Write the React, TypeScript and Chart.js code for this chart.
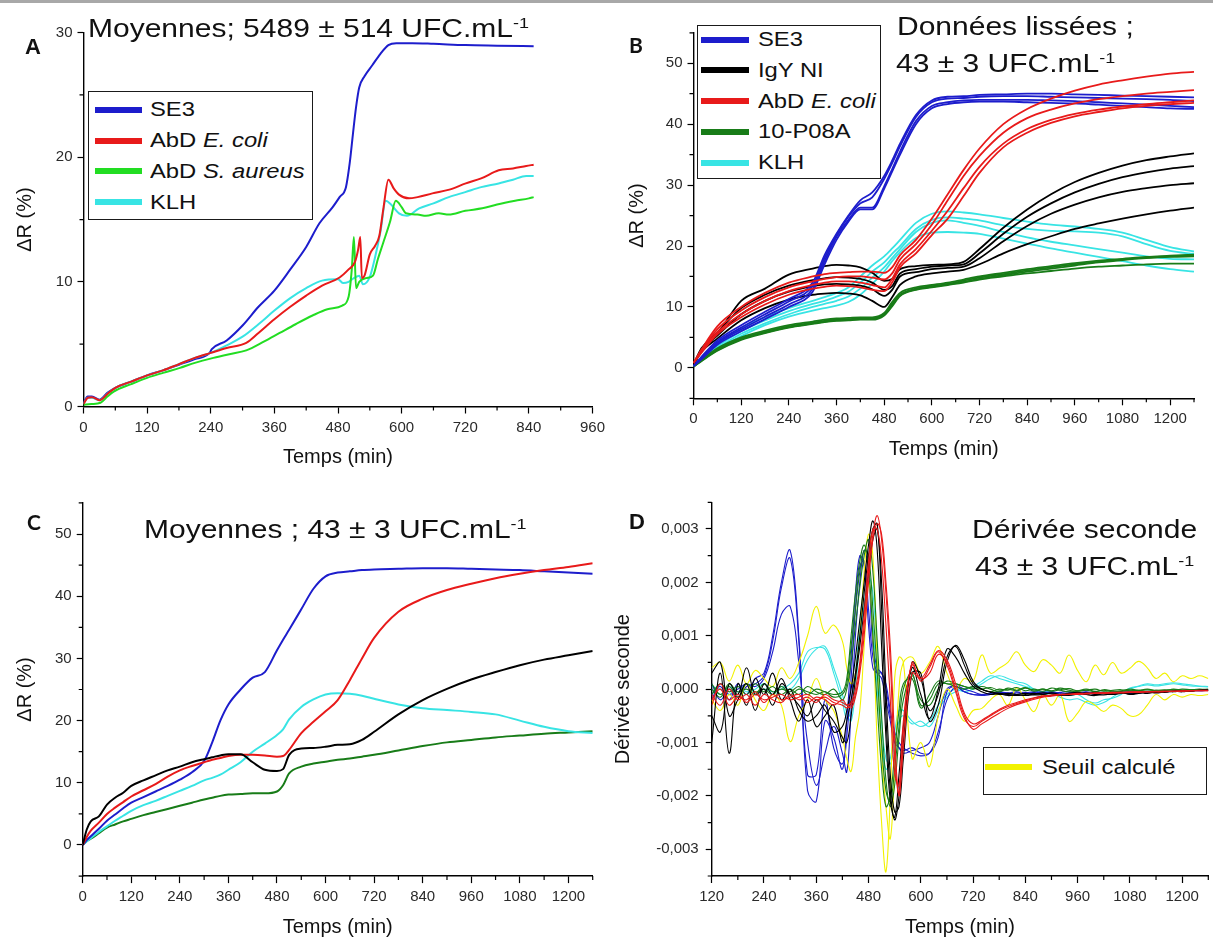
import React, { useEffect, useRef } from 'react';
import { Chart, registerables } from 'chart.js';

Chart.register(...registerables);

const FONT = "'Liberation Sans', Arial, Helvetica, sans-serif";
const LATO = "Lato, 'Liberation Sans', sans-serif";

const BLUE = '#1d1dcc';
const RED = '#e81a1a';
const LIME = '#22dd22';
const GREEN = '#187c18';
const CYAN = '#38e4e4';
const BLACK = '#000000';
const YELLOW = '#f2f200';

type Pt = [number, number];

// ---------------- Panel A (5489 ± 514 UFC/mL, means) ----------------
const A_X_MAJOR = [0, 120, 240, 360, 480, 600, 720, 840, 960];
const A_X_MINOR = [60, 180, 300, 420, 540, 660, 780, 900];
const A_Y_MAJOR = [0, 10, 20, 30];
const A_Y_MINOR = [5, 15, 25];

const A_SE3: Pt[] = [[0,0.3],[8,0.8],[16,0.8],[30,0.55],[45,1.1],[60,1.5],[90,2.0],[120,2.5],[150,2.9],[180,3.35],[210,3.8],[238,4.3],[242,4.6],[270,5.3],[300,6.5],[330,8.0],[360,9.3],[390,11.0],[420,12.8],[445,14.7],[470,16.0],[483,16.8],[495,17.6],[502,19.5],[508,21.8],[514,24.0],[520,25.6],[530,26.5],[545,27.4],[560,28.3],[575,29.0],[590,29.15],[620,29.15],[660,29.1],[720,29.0],[780,28.95],[849,28.9]];
const A_ECOLI: Pt[] = [[0,0.2],[8,0.7],[16,0.75],[30,0.5],[45,1.0],[60,1.5],[90,2.0],[120,2.5],[150,2.9],[180,3.4],[210,3.9],[240,4.3],[270,4.7],[307,5.1],[330,5.9],[360,7.0],[390,8.0],[420,8.9],[450,9.7],[483,10.35],[500,11.0],[512,11.6],[518,12.6],[522,13.6],[525,10.3],[530,10.5],[540,12.2],[550,12.9],[558,13.7],[566,16.0],[575,18.2],[585,17.5],[595,17.0],[614,16.7],[630,16.8],[658,17.1],[690,17.4],[721,17.9],[750,18.3],[783,18.95],[810,19.1],[835,19.3],[849,19.4]];
const A_SAUREUS: Pt[] = [[0,0.15],[15,0.2],[32,0.3],[45,0.8],[57,1.2],[90,1.8],[120,2.3],[150,2.7],[182,3.1],[210,3.5],[245,3.9],[275,4.2],[307,4.5],[340,5.2],[370,5.9],[400,6.6],[432,7.3],[460,7.8],[488,8.1],[500,8.8],[506,11.0],[510,13.6],[514,9.5],[520,10.0],[533,10.3],[546,10.5],[555,11.8],[565,13.1],[578,14.8],[589,16.5],[600,16.0],[608,15.5],[630,15.4],[646,15.3],[670,15.5],[689,15.4],[720,15.7],[752,15.9],[780,16.2],[814,16.5],[840,16.7],[849,16.8]];
const A_KLH: Pt[] = [[0,0.2],[8,0.7],[16,0.7],[30,0.5],[45,1.0],[60,1.5],[90,2.0],[120,2.5],[150,2.9],[180,3.4],[210,3.9],[240,4.3],[270,4.9],[300,5.6],[330,6.6],[360,7.7],[390,8.7],[420,9.5],[450,10.1],[480,10.2],[490,9.9],[500,10.0],[510,10.3],[520,10.5],[527,9.8],[540,10.4],[550,12.0],[560,14.0],[570,16.5],[580,16.2],[595,15.5],[610,15.3],[633,15.9],[660,16.3],[689,16.8],[720,17.2],[750,17.6],[783,17.9],[810,18.2],[835,18.5],[849,18.5]];

// ---------------- Panel B (smoothed, 43 ± 3 UFC/mL) ----------------
const BC_X_MAJOR = [0, 120, 240, 360, 480, 600, 720, 840, 960, 1080, 1200];
const BC_X_MINOR = [60, 180, 300, 420, 540, 660, 780, 900, 1020, 1140, 1260];
const BC_Y_MAJOR = [0, 10, 20, 30, 40, 50];
const BC_Y_MINOR = [-5, 5, 15, 25, 35, 45, 55];

const B_T = [0, 20, 60, 120, 180, 240, 300, 330, 360, 390, 420, 450, 480, 500, 520, 560, 600, 640, 680, 720, 780, 840, 900, 960, 1020, 1080, 1140, 1200, 1260];

const B_SE3_1 = [0.3, 1.8, 4.5, 7.0, 9.2, 11.3, 14.0, 18.5, 22.0, 25.0, 27.5, 28.8, 31.5, 34.0, 36.8, 41.5, 43.9, 44.5, 44.6, 44.8, 44.9, 45.0, 45.0, 44.9, 44.8, 44.7, 44.6, 44.5, 44.4];
const B_SE3_2 = [0.3, 1.6, 4.2, 6.6, 8.8, 10.9, 13.5, 18.0, 21.8, 24.8, 27.0, 28.0, 31.0, 33.6, 36.4, 41.2, 43.6, 44.2, 44.3, 44.5, 44.6, 44.6, 44.5, 44.4, 44.3, 44.2, 44.1, 44.0, 43.8];
const B_SE3_3 = [0.3, 1.5, 4.0, 6.3, 8.4, 10.4, 13.0, 17.5, 21.5, 24.3, 26.3, 26.3, 29.8, 32.6, 35.5, 40.5, 43.0, 43.6, 43.9, 44.0, 44.0, 44.0, 43.9, 43.8, 43.6, 43.4, 43.2, 43.0, 42.8];
const B_SE3_4 = [0.3, 1.4, 3.8, 6.0, 8.0, 10.0, 12.5, 17.0, 21.0, 24.0, 26.0, 26.0, 29.4, 32.2, 35.0, 40.0, 42.6, 43.3, 43.6, 43.7, 43.7, 43.6, 43.5, 43.4, 43.2, 43.0, 42.8, 42.6, 42.5];

const B_IGY_1 = [0.5, 3.2, 5.6, 11.0, 13.0, 15.3, 16.3, 16.7, 16.9, 16.8, 16.5, 15.6, 14.3, 14.6, 16.2, 16.7, 16.9, 17.0, 17.4, 19.5, 23.0, 26.0, 28.5, 30.5, 32.0, 33.2, 34.1, 34.7, 35.2];
const B_IGY_2 = [0.5, 3.0, 5.8, 9.8, 12.0, 13.5, 14.4, 14.7, 14.9, 14.8, 14.6, 14.0, 12.8, 13.4, 15.5, 16.2, 16.6, 16.8, 17.0, 18.8, 22.0, 24.8, 27.0, 28.8, 30.2, 31.3, 32.1, 32.7, 33.1];
const B_IGY_3 = [0.5, 2.8, 5.3, 8.8, 11.0, 12.5, 13.4, 13.7, 13.8, 13.7, 13.5, 12.9, 11.8, 12.8, 15.0, 15.7, 16.2, 16.4, 16.6, 18.0, 20.8, 23.3, 25.3, 26.8, 28.0, 28.9, 29.5, 30.0, 30.3];
const B_IGY_4 = [0.5, 2.6, 4.8, 7.8, 9.8, 11.2, 12.0, 12.2, 12.3, 12.2, 11.9, 11.0, 10.0, 11.6, 13.6, 15.0, 15.5, 15.8, 16.1, 17.0, 18.8, 20.3, 21.6, 22.8, 23.7, 24.5, 25.2, 25.8, 26.3];

const B_ECOLI_1 = [0.8, 3.0, 6.8, 10.0, 12.3, 14.0, 15.0, 15.4, 15.6, 15.7, 15.8, 15.8, 15.6, 16.5, 18.5, 21.0, 24.5, 28.5, 32.5, 36.0, 40.0, 42.5, 44.2, 45.5, 46.5, 47.2, 47.8, 48.3, 48.6];
const B_ECOLI_2 = [0.8, 2.8, 6.3, 9.4, 11.6, 13.2, 14.2, 14.6, 14.9, 15.0, 15.0, 14.8, 14.5, 15.5, 17.8, 20.3, 23.5, 27.5, 31.5, 34.8, 38.6, 41.0, 42.4, 43.4, 44.1, 44.6, 45.0, 45.3, 45.6];
const B_ECOLI_3 = [0.8, 2.6, 5.8, 8.8, 11.0, 12.6, 13.6, 14.0, 14.2, 14.2, 14.0, 13.6, 13.2, 14.6, 17.0, 19.5, 22.5, 25.8, 29.5, 33.0, 36.8, 39.2, 40.7, 41.7, 42.4, 42.9, 43.3, 43.6, 43.9];
const B_ECOLI_4 = [0.8, 2.5, 5.5, 8.3, 10.4, 12.0, 13.0, 13.3, 13.5, 13.4, 13.2, 12.8, 12.6, 14.0, 16.5, 18.8, 21.8, 24.5, 28.2, 32.0, 36.2, 38.6, 40.2, 41.3, 42.0, 42.6, 43.0, 43.3, 43.5];

const B_P08A_1 = [0.2, 1.3, 3.2, 5.0, 6.1, 7.0, 7.6, 7.9, 8.1, 8.2, 8.3, 8.3, 9.0, 10.8, 12.3, 13.2, 13.6, 14.0, 14.5, 15.0, 15.6, 16.2, 16.7, 17.2, 17.6, 17.9, 18.2, 18.4, 18.6];
const B_P08A_2 = [0.2, 1.2, 3.0, 4.8, 5.9, 6.8, 7.4, 7.7, 7.9, 8.0, 8.1, 8.1, 8.8, 10.5, 12.0, 13.0, 13.4, 13.8, 14.3, 14.8, 15.4, 16.0, 16.5, 17.0, 17.4, 17.8, 18.1, 18.3, 18.5];
const B_P08A_3 = [0.2, 1.2, 2.9, 4.7, 5.8, 6.7, 7.3, 7.6, 7.8, 7.9, 8.0, 8.0, 8.7, 10.3, 11.9, 12.9, 13.3, 13.7, 14.1, 14.6, 15.2, 15.8, 16.3, 16.8, 17.3, 17.7, 18.0, 18.2, 18.3];
const B_P08A_4 = [0.2, 1.1, 2.8, 4.6, 5.7, 6.6, 7.2, 7.5, 7.7, 7.8, 7.9, 7.9, 8.6, 10.1, 11.8, 12.8, 13.2, 13.6, 14.0, 14.5, 15.0, 15.5, 15.9, 16.3, 16.6, 16.8, 17.0, 17.1, 17.1];

const B_KLH_1 = [0.3, 1.5, 3.8, 6.5, 8.3, 9.8, 11.0, 11.6, 12.3, 13.2, 15.0, 16.8, 18.3, 19.6, 21.0, 23.8, 25.3, 25.7, 25.5, 25.2, 24.6, 24.0, 23.5, 23.2, 22.8, 22.2, 21.0, 19.8, 19.1];
const B_KLH_2 = [0.3, 1.4, 3.5, 6.0, 7.8, 9.3, 10.5, 11.0, 11.7, 12.5, 14.0, 15.8, 17.3, 18.7, 20.0, 22.8, 24.3, 24.7, 24.5, 24.2, 23.4, 22.8, 22.5, 22.4, 22.2, 21.6, 20.3, 19.2, 18.7];
const B_KLH_3 = [0.3, 1.3, 3.2, 5.6, 7.3, 8.8, 10.0, 10.5, 11.0, 11.7, 13.0, 14.8, 16.5, 18.0, 19.5, 22.3, 23.8, 24.2, 23.8, 23.3, 22.3, 21.4, 20.7, 20.1, 19.5, 18.9, 18.3, 17.9, 17.8];
const B_KLH_4 = [0.3, 1.2, 3.0, 5.2, 7.0, 8.4, 9.4, 9.8, 10.2, 10.8, 12.0, 13.8, 15.8, 17.5, 19.0, 21.3, 22.2, 22.3, 22.2, 22.0, 21.2, 20.4, 19.6, 18.9, 18.2, 17.5, 16.8, 16.2, 15.8];

// ---------------- Panel C (means, 43 ± 3 UFC/mL) ----------------
const C_T = [0, 10, 20, 40, 60, 80, 100, 120, 150, 180, 210, 240, 270, 300, 320, 340, 360, 390, 420, 450, 480, 495, 510, 540, 570, 600, 630, 660, 690, 720, 780, 840, 900, 960, 1020, 1080, 1140, 1200, 1260];
const C_IGY = [0, 2.5, 3.8, 4.6, 6.5, 7.6, 8.4, 9.5, 10.4, 11.2, 12.0, 12.6, 13.3, 13.8, 14.1, 14.4, 14.6, 14.6, 13.3, 12.1, 11.9, 12.2, 14.5, 15.5, 15.6, 15.8, 16.1, 16.2, 16.9, 18.2, 21.0, 23.3, 25.1, 26.6, 27.8, 28.9, 29.8, 30.5, 31.2];
const C_ECOLI = [0, 1.3, 2.3, 3.6, 5.0, 6.0, 6.9, 7.8, 8.8, 9.8, 11.0, 12.0, 12.7, 13.3, 13.7, 14.0, 14.3, 14.5, 14.5, 14.4, 14.2, 14.3, 15.3, 18.0, 19.8, 21.5, 23.3, 26.5, 30.0, 33.3, 37.5, 39.6, 41.0, 42.0, 42.9, 43.6, 44.2, 44.7, 45.3];
const C_SE3 = [0, 0.8, 1.4, 2.6, 3.9, 4.9, 5.9, 6.8, 7.7, 8.6, 9.5, 10.5, 11.7, 13.5, 16.5, 20.0, 22.6, 25.0, 26.9, 27.8, 31.3, 33.0, 34.6, 37.9, 41.2, 43.2, 43.8, 44.0, 44.2, 44.3, 44.4, 44.5, 44.5, 44.4, 44.3, 44.2, 44.0, 43.8, 43.6];
const C_KLH = [0, 0.6, 1.1, 2.1, 3.0, 3.9, 4.7, 5.5, 6.4, 7.1, 7.9, 8.7, 9.5, 10.4, 10.8, 11.3, 12.1, 13.3, 15.0, 16.3, 17.7, 18.6, 20.2, 22.2, 23.4, 24.2, 24.4, 24.3, 24.0, 23.5, 22.6, 22.0, 21.7, 21.4, 21.0, 20.0, 19.0, 18.3, 18.0];
const C_P08A = [0, 0.6, 1.0, 1.9, 2.8, 3.3, 3.8, 4.2, 4.8, 5.3, 5.8, 6.3, 6.8, 7.3, 7.6, 7.9, 8.1, 8.2, 8.3, 8.3, 8.6, 9.6, 11.5, 12.6, 13.1, 13.4, 13.7, 13.9, 14.2, 14.5, 15.2, 15.9, 16.5, 16.9, 17.3, 17.6, 17.9, 18.1, 18.3];

// ---------------- Panel D (second derivative, values in 1e-3) ----------------
const D_X_MAJOR = [120, 240, 360, 480, 600, 720, 840, 960, 1080, 1200];
const D_X_MINOR = [180, 300, 420, 540, 660, 780, 900, 1020, 1140, 1260];
const D_Y_MAJOR = [-3, -2, -1, 0, 1, 2, 3];
const D_Y_MINOR = [-3.5, -2.5, -1.5, -0.5, 0.5, 1.5, 2.5, 3.5];

const D_T = [
  120, 140, 160, 180, 200, 220, 240, 260, 280, 300, 320, 340, 360, 380, 400, 420,
  430, 440, 450, 460, 470, 480, 490, 500, 510, 520, 530, 540, 550, 560,
  580, 600, 620, 640, 660, 680, 700, 720, 740, 760, 780, 800, 820, 840, 860, 880, 900, 920, 940, 960,
  980, 1000, 1020, 1040, 1060, 1080, 1100, 1120, 1140, 1160, 1180, 1200, 1220, 1240, 1260,
];

const D_SE3_1 = [
  -0.1, 0.05, -0.2, 0.1, -0.1, 0.2, 0.3, 1.0, 2.0, 2.6, 1.0, -1.9, -2.1, -0.6, -0.9, -1.5,
  -0.6, 0.6, 1.8, 2.5, 2.3, 1.2, 0.4, 0.3, 0.3, 0.0, -0.5, -0.9, -1.1, -1.15,
  -1.1, -1.2, -1.2, -0.9, -0.05, 0.05, -0.05, -0.1, -0.1, -0.08, -0.05, -0.07, -0.05, -0.08, -0.06, -0.05, -0.08, -0.06, -0.05, -0.08,
  -0.06, -0.1, -0.08, -0.05, -0.06, -0.08, -0.06, -0.05, -0.04, -0.05, -0.03, -0.04, -0.02, -0.03, -0.02,
];
const D_SE3_2 = [
  0.1, -0.2, 0.0, -0.15, 0.05, 0.1, 0.25, 0.9, 1.9, 2.45, 0.9, -1.6, -1.6, -0.2, -1.1, -1.4,
  -0.9, 0.2, 1.5, 2.3, 2.4, 1.5, 0.6, 0.3, 0.2, -0.2, -0.6, -1.0, -1.1, -1.2,
  -1.15, -1.1, -1.0, -0.5, 0.0, 0.05, -0.05, -0.1, -0.12, -0.1, -0.08, -0.1, -0.07, -0.06, -0.09, -0.07, -0.05, -0.08, -0.1, -0.07,
  -0.05, -0.08, -0.06, -0.09, -0.07, -0.05, -0.06, -0.04, -0.05, -0.03, -0.04, -0.03, -0.02, -0.03, -0.02,
];
const D_SE3_3 = [
  -0.2, 0.1, -0.1, 0.0, 0.1, 0.05, 0.2, 0.7, 1.4, 1.55, 0.5, -1.0, -1.8, -1.2, -0.7, -1.2,
  -1.55, -0.4, 1.0, 2.0, 2.6, 2.2, 0.8, 0.4, 0.3, 0.1, -0.4, -0.8, -1.0, -1.1,
  -1.2, -1.25, -1.2, -0.8, -0.2, 0.05, 0.0, -0.05, -0.1, -0.1, -0.06, -0.08, -0.1, -0.07, -0.05, -0.08, -0.06, -0.1, -0.07, -0.06,
  -0.08, -0.05, -0.07, -0.09, -0.06, -0.05, -0.07, -0.05, -0.04, -0.05, -0.04, -0.03, -0.03, -0.02, -0.02,
];
const D_IGY_1 = [
  -1.0, 0.3, -1.2, 0.1, -0.3, 0.2, -0.1, 0.3, -0.2, 0.0, -0.4, -0.6, -0.5, -0.3, -0.8, -0.7,
  -0.4, 0.0, 0.6, 1.3, 2.0, 2.7, 3.15, 2.6, 0.8, -0.9, -2.1, -2.4, -1.6, -0.7,
  0.4, -0.1, -0.55, 0.0, 0.75, 0.6, 0.3, 0.05, -0.05, -0.1, -0.08, -0.1, -0.12, -0.1, -0.08, -0.1, -0.12, -0.1, -0.08, -0.06,
  -0.1, -0.12, -0.08, -0.1, -0.06, -0.1, -0.08, -0.05, -0.07, -0.05, -0.04, -0.05, -0.03, -0.02, -0.02,
];
const D_IGY_2 = [
  0.3, 0.5, -0.5, -0.2, 0.1, -0.4, 0.1, -0.1, 0.2, -0.2, -0.6, -0.2, -0.7, -0.5, -0.3, -1.0,
  -0.6, -0.2, 0.3, 1.0, 1.8, 2.5, 3.0, 3.1, 1.5, -0.5, -1.9, -2.45, -2.0, -1.0,
  0.5, 0.2, -0.4, -0.1, 0.6, 0.8, 0.45, 0.1, 0.0, -0.06, -0.1, -0.08, -0.1, -0.12, -0.1, -0.07, -0.09, -0.12, -0.1, -0.08,
  -0.1, -0.06, -0.09, -0.1, -0.08, -0.07, -0.06, -0.08, -0.05, -0.06, -0.04, -0.03, -0.04, -0.02, -0.02,
];
const D_IGY_3 = [
  -0.5, -0.8, 0.1, -0.1, 0.4, -0.1, 0.0, -0.3, 0.1, -0.1, -0.3, -0.5, -0.2, -0.4, -0.6, -0.9,
  -1.0, -0.5, 0.2, 0.8, 1.5, 2.2, 2.8, 3.0, 2.0, 0.0, -1.6, -2.3, -2.2, -1.3,
  0.3, 0.3, -0.6, -0.3, 0.5, 0.82, 0.55, 0.15, 0.0, -0.05, -0.08, -0.12, -0.1, -0.08, -0.11, -0.1, -0.07, -0.1, -0.12, -0.09,
  -0.07, -0.1, -0.11, -0.08, -0.06, -0.09, -0.07, -0.05, -0.06, -0.04, -0.05, -0.03, -0.03, -0.02, -0.01,
];
const D_ECOLI_1 = [
  -0.3, 0.1, -0.2, -0.1, -0.25, -0.1, -0.2, -0.15, -0.1, -0.2, -0.15, -0.1, -0.2, -0.15, -0.25, -0.3,
  -0.35, -0.3, -0.1, 0.4, 1.2, 2.2, 2.9, 3.25, 2.8, 1.8, 0.5, -1.3, -1.95, -0.8,
  0.5, 0.15, 0.4, 0.7, 0.45, -0.05, -0.55, -0.7, -0.6, -0.5, -0.4, -0.33, -0.27, -0.22, -0.17, -0.13, -0.12, -0.1, -0.1, -0.09,
  -0.08, -0.08, -0.07, -0.07, -0.06, -0.06, -0.05, -0.05, -0.05, -0.04, -0.04, -0.04, -0.03, -0.03, -0.03,
];
const D_ECOLI_2 = [
  -0.1, -0.3, 0.0, -0.2, -0.1, -0.3, -0.1, -0.2, -0.25, -0.1, -0.2, -0.15, -0.25, -0.1, -0.2, -0.25,
  -0.3, -0.25, 0.0, 0.5, 1.4, 2.4, 3.0, 3.0, 2.4, 1.2, -0.2, -1.6, -1.8, -0.6,
  0.45, 0.2, 0.3, 0.65, 0.5, 0.0, -0.5, -0.75, -0.65, -0.55, -0.45, -0.36, -0.29, -0.24, -0.19, -0.15, -0.13, -0.11, -0.1, -0.1,
  -0.09, -0.08, -0.08, -0.07, -0.07, -0.06, -0.06, -0.05, -0.05, -0.05, -0.04, -0.04, -0.03, -0.03, -0.03,
];
const D_ECOLI_3 = [
  -0.2, 0.0, -0.3, -0.15, -0.2, -0.05, -0.25, -0.1, -0.2, -0.15, -0.1, -0.25, -0.15, -0.2, -0.3, -0.2,
  -0.3, -0.35, -0.15, 0.3, 1.0, 2.0, 2.8, 3.1, 2.9, 2.0, 0.8, -0.9, -2.0, -1.1,
  0.3, 0.2, 0.45, 0.72, 0.55, 0.1, -0.45, -0.65, -0.58, -0.48, -0.38, -0.3, -0.25, -0.2, -0.16, -0.13, -0.11, -0.1, -0.09, -0.08,
  -0.08, -0.07, -0.07, -0.06, -0.06, -0.05, -0.05, -0.05, -0.04, -0.04, -0.04, -0.03, -0.03, -0.02, -0.02,
];
const D_P08A_1 = [
  0.1, -0.1, 0.05, -0.15, 0.1, -0.05, 0.0, -0.1, 0.05, -0.1, 0.0, -0.05, -0.1, -0.05, -0.15, -0.1,
  0.1, 0.8, 1.5, 2.2, 2.6, 2.5, 1.5, 0.3, -1.0, -1.9, -2.1, -1.5, -0.7, 0.0,
  0.3, -0.3, -0.2, 0.1, 0.1, 0.05, 0.0, 0.05, 0.0, -0.05, 0.0, -0.02, 0.03, -0.03, 0.0, -0.04, 0.02, -0.02, -0.05, -0.03,
  0.0, -0.04, -0.02, -0.05, -0.03, 0.0, -0.02, -0.04, -0.02, -0.03, 0.0, -0.02, -0.01, -0.02, -0.01,
];
const D_P08A_2 = [
  -0.1, 0.1, -0.05, 0.05, -0.1, 0.1, -0.05, 0.05, -0.1, 0.0, -0.1, 0.05, -0.05, -0.1, 0.0, -0.2,
  0.0, 0.5, 1.2, 1.9, 2.5, 2.8, 2.2, 0.9, -0.5, -1.7, -2.2, -1.8, -0.9, -0.2,
  0.25, -0.2, -0.3, 0.0, 0.15, 0.1, 0.05, 0.0, 0.05, 0.0, -0.05, 0.02, -0.02, 0.03, -0.04, 0.0, -0.03, 0.02, -0.02, -0.04,
  -0.02, -0.05, -0.01, -0.03, -0.04, -0.02, -0.03, -0.01, -0.03, -0.02, -0.01, -0.02, -0.01, 0.0, -0.01,
];
const D_P08A_3 = [
  0.0, -0.15, 0.1, -0.05, 0.0, -0.1, 0.1, -0.05, 0.0, -0.05, 0.05, -0.1, 0.0, -0.05, -0.1, -0.05,
  0.2, 1.0, 1.8, 2.4, 2.7, 2.3, 1.0, -0.3, -1.5, -2.2, -2.0, -1.2, -0.4, 0.1,
  0.2, -0.35, -0.1, 0.15, 0.1, 0.1, 0.05, 0.02, 0.0, 0.03, -0.02, 0.0, -0.03, 0.02, -0.02, 0.0, -0.04, -0.01, 0.01, -0.03,
  -0.02, 0.0, -0.04, -0.02, -0.01, -0.03, -0.02, 0.0, -0.02, -0.01, -0.02, 0.0, -0.01, -0.01, 0.0,
];
const D_KLH_1 = [
  0.0, -0.1, 0.05, -0.05, 0.1, -0.1, 0.0, -0.05, 0.0, 0.1, 0.3, 0.7, 0.78, 0.75, 0.3, -0.25,
  -0.55, -0.4, 0.3, 1.2, 1.9, 2.0, 1.2, 0.0, -1.0, -1.5, -1.3, -0.8, -0.4, -0.4,
  -0.6, -0.7, -0.6, -0.3, -0.1, 0.0, -0.05, 0.0, 0.1, 0.2, 0.25, 0.2, 0.14, 0.1, 0.0, -0.05, -0.04, -0.1, -0.12, -0.1,
  -0.2, -0.26, -0.2, -0.17, -0.1, 0.02, 0.05, 0.08, 0.06, 0.08, 0.1, 0.08, 0.06, 0.05, 0.04,
];
const D_KLH_2 = [
  0.05, 0.0, -0.1, 0.05, -0.05, 0.0, 0.1, -0.1, 0.05, 0.0, 0.2, 0.55, 0.75, 0.8, 0.4, -0.1,
  -0.45, -0.6, 0.0, 0.9, 1.6, 2.1, 1.8, 0.6, -0.6, -1.3, -1.4, -1.0, -0.6, -0.5,
  -0.65, -0.6, -0.7, -0.4, -0.15, -0.05, 0.0, 0.05, 0.15, 0.25, 0.2, 0.15, 0.1, 0.05, 0.0, -0.1, -0.08, -0.15, -0.2, -0.18,
  -0.25, -0.3, -0.25, -0.15, -0.05, 0.0, 0.06, 0.1, 0.08, 0.1, 0.12, 0.1, 0.08, 0.06, 0.05,
];
const D_SEUIL_1 = [
  0.4, 0.5, 0.15, 0.45, 0.1, 0.35, 0.2, 0.05, 0.4, 0.2, 0.5, 1.0, 1.55, 1.05, 1.2, 0.9,
  0.4, 0.1, 0.3, 1.0, 2.2, 2.9, 2.5, 0.5, -1.2, -2.2, -2.8, -1.5, 0.0, 0.5,
  0.6, 0.3, 0.5, 0.8, 0.3, 0.0, 0.2, 0.15, 0.64, 0.3, 0.39, 0.5, 0.7, 0.45, 0.33, 0.55, 0.45, 0.3, 0.64, 0.35,
  0.14, 0.45, 0.27, 0.5, 0.3, 0.39, 0.52, 0.4, 0.2, 0.3, 0.14, 0.25, 0.2, 0.25, 0.2,
];
const D_SEUIL_2 = [
  -0.2, -0.4, -0.1, -0.3, 0.1, -0.2, -0.4, -0.1, -0.3, -0.98, -0.5, -0.2, 0.2, -0.2, -0.4, -0.9,
  -1.3, -1.54, -0.9, -0.4, 0.8, 2.0, 1.0, -1.0, -2.5, -3.42, -2.0, 0.2, 0.6, 0.5,
  -1.3, -1.0, -1.45, -0.5, 0.0, -0.3, -0.6, -0.4, -0.36, -0.2, -0.1, -0.3, 0.02, -0.2, -0.42, -0.1, -0.3, -0.1, -0.6, -0.45,
  -0.23, -0.3, -0.42, -0.3, -0.36, -0.5, -0.48, -0.3, -0.1, -0.2, -0.1, -0.15, -0.1, -0.12, -0.1,
];

// ---------------- Legends ----------------
const A_LEGEND = [
  { text: 'SE3', it: '', color: BLUE },
  { text: 'AbD ', it: 'E. coli', color: RED },
  { text: 'AbD ', it: 'S. aureus', color: LIME },
  { text: 'KLH', it: '', color: CYAN },
];
const B_LEGEND = [
  { text: 'SE3', it: '', color: BLUE },
  { text: 'IgY NI', it: '', color: BLACK },
  { text: 'AbD ', it: 'E. coli', color: RED },
  { text: '10-P08A', it: '', color: GREEN },
  { text: 'KLH', it: '', color: CYAN },
];
const D_LEGEND = [{ text: 'Seuil calculé', it: '', color: YELLOW }];

// ---------------- helpers ----------------
const fromPairs = (pts: Pt[]) => pts.map(([x, y]) => ({ x, y }));
const fromGrid = (xs: number[], ys: number[]) => ys.map((y, i) => ({ x: xs[i], y }));

const ds = (data: any[], color: string, width: number, smooth: 'mono' | 'bez') => ({
  data,
  borderColor: color,
  backgroundColor: color,
  borderWidth: width,
  pointRadius: 0,
  fill: false,
  ...(smooth === 'mono' ? { cubicInterpolationMode: 'monotone' } : { tension: 0.4 }),
});

const minorTicks = {
  id: 'minorTicks',
  afterDraw(chart: any, _args: any, opts: any) {
    const { ctx } = chart;
    const xs = chart.scales.x;
    const ys = chart.scales.y;
    ctx.save();
    ctx.strokeStyle = '#000';
    ctx.lineWidth = 1.2;
    ctx.beginPath();
    for (const v of opts.x || []) {
      const p = xs.getPixelForValue(v);
      ctx.moveTo(p, xs.top);
      ctx.lineTo(p, xs.top + opts.len);
    }
    for (const v of opts.y || []) {
      const p = ys.getPixelForValue(v);
      ctx.moveTo(ys.right, p);
      ctx.lineTo(ys.right - opts.len, p);
    }
    ctx.stroke();
    ctx.restore();
  },
};

const fmtD = (v: number) => {
  const s = (Math.abs(v) / 1000).toFixed(3).replace('.', ',');
  return v < 0 ? '-' + s : s;
};

function buildConfig(p: any) {
  const tickFont = { family: FONT, size: 15 };
  const base = (a: any, tl: number) => ({
    type: 'linear',
    min: a.min,
    max: a.max,
    afterBuildTicks: (s: any) => {
      s.ticks = a.major.map((v: number) => ({ value: v }));
    },
    grid: { display: true, drawOnChartArea: false, drawTicks: true, tickLength: tl, tickWidth: 1.2, tickColor: '#000' },
    border: { display: true, color: '#000', width: 1.4 },
  });
  return {
    type: 'line',
    data: { datasets: p.datasets },
    plugins: [minorTicks],
    options: {
      responsive: false,
      animation: false,
      devicePixelRatio: 1,
      events: [],
      layout: { padding: p.pad },
      plugins: {
        legend: { display: false },
        tooltip: { enabled: false },
        minorTicks: { x: p.x.minor, y: p.y.minor, len: 4 },
      },
      scales: {
        x: {
          ...base(p.x, 7),
          position: 'bottom',
          afterFit: (s: any) => { s.height = p.xHeight; },
          ticks: { font: tickFont, color: '#2a2a2a', padding: 5, maxRotation: 0, autoSkip: false, callback: (v: any) => String(v) },
          title: { display: true, text: 'Temps (min)', color: '#111', font: { family: FONT, size: 20, lineHeight: 1 }, padding: { top: 0, bottom: 0 } },
        },
        y: {
          ...base(p.y, 6),
          position: 'left',
          afterFit: (s: any) => { s.width = p.yWidth; },
          ticks: { font: tickFont, color: '#2a2a2a', padding: p.yTickPad, autoSkip: false, callback: p.y.fmt || ((v: any) => String(v)) },
          title: { display: true, text: p.yTitle, color: '#111', font: { family: FONT, size: 20, lineHeight: 1 }, padding: { top: p.yTitlePad, bottom: 0 } },
        },
      },
    },
  };
}

const cfgA = () => buildConfig({
  datasets: [
    ds(fromPairs(A_ECOLI), RED, 2, 'mono'),
    ds(fromPairs(A_SAUREUS), LIME, 2, 'mono'),
    ds(fromPairs(A_KLH), CYAN, 2, 'mono'),
    ds(fromPairs(A_SE3), BLUE, 2, 'mono'),
  ],
  x: { min: 0, max: 960, major: A_X_MAJOR, minor: A_X_MINOR },
  y: { min: 0, max: 30, major: A_Y_MAJOR, minor: A_Y_MINOR },
  yTitle: 'ΔR (%)', yTitlePad: 15, yWidth: 83.5, xHeight: 61, yTickPad: 5,
  pad: { left: 0, right: 27.5, top: 32.6, bottom: 12.5 },
});

const cfgB = () => buildConfig({
  datasets: [
    ...[B_ECOLI_1, B_ECOLI_2, B_ECOLI_3, B_ECOLI_4].map((s) => ds(fromGrid(B_T, s), RED, 1.8, 'mono')),
    ...[B_SE3_1, B_SE3_2, B_SE3_3, B_SE3_4].map((s) => ds(fromGrid(B_T, s), BLUE, 1.8, 'mono')),
    ...[B_IGY_1, B_IGY_2, B_IGY_3, B_IGY_4].map((s) => ds(fromGrid(B_T, s), BLACK, 1.8, 'mono')),
    ...[B_P08A_1, B_P08A_2, B_P08A_3, B_P08A_4].map((s) => ds(fromGrid(B_T, s), GREEN, 1.8, 'mono')),
    ...[B_KLH_1, B_KLH_2, B_KLH_3, B_KLH_4].map((s) => ds(fromGrid(B_T, s), CYAN, 1.8, 'mono')),
  ],
  x: { min: 0, max: 1260, major: BC_X_MAJOR, minor: BC_X_MINOR },
  y: { min: -5, max: 55, major: BC_Y_MAJOR, minor: BC_Y_MINOR },
  yTitle: 'ΔR (%)', yTitlePad: 22, yWidth: 88.5, xHeight: 61, yTickPad: 5,
  pad: { left: 0, right: 19, top: 32.8, bottom: 20.7 },
});

const cfgC = () => buildConfig({
  datasets: [
    ds(fromGrid(C_T, C_IGY), BLACK, 2, 'mono'),
    ds(fromGrid(C_T, C_ECOLI), RED, 2, 'mono'),
    ds(fromGrid(C_T, C_SE3), BLUE, 2, 'mono'),
    ds(fromGrid(C_T, C_KLH), CYAN, 2, 'mono'),
    ds(fromGrid(C_T, C_P08A), GREEN, 2, 'mono'),
  ],
  x: { min: 0, max: 1260, major: BC_X_MAJOR, minor: BC_X_MINOR },
  y: { min: -5, max: 55, major: BC_Y_MAJOR, minor: BC_Y_MINOR },
  yTitle: 'ΔR (%)', yTitlePad: 15, yWidth: 82.7, xHeight: 60.9, yTickPad: 5,
  pad: { left: 0, right: 27.3, top: 32.9, bottom: 0 },
});

const cfgD = () => buildConfig({
  datasets: [
    ...[D_ECOLI_1, D_ECOLI_2, D_ECOLI_3].map((s) => ds(fromGrid(D_T, s), RED, 1.1, 'bez')),
    ...[D_IGY_1, D_IGY_2, D_IGY_3].map((s) => ds(fromGrid(D_T, s), BLACK, 1.1, 'bez')),
    ...[D_P08A_1, D_P08A_2, D_P08A_3].map((s) => ds(fromGrid(D_T, s), GREEN, 1.1, 'bez')),
    ...[D_SEUIL_1, D_SEUIL_2].map((s) => ds(fromGrid(D_T, s), YELLOW, 1.1, 'bez')),
    ...[D_SE3_1, D_SE3_2, D_SE3_3].map((s) => ds(fromGrid(D_T, s), BLUE, 1.1, 'bez')),
    ...[D_KLH_1, D_KLH_2].map((s) => ds(fromGrid(D_T, s), CYAN, 1.1, 'bez')),
  ],
  x: { min: 120, max: 1260, major: D_X_MAJOR, minor: D_X_MINOR },
  y: { min: -3.5, max: 3.5, major: D_Y_MAJOR, minor: D_Y_MINOR, fmt: fmtD },
  yTitle: 'Dérivée seconde', yTitlePad: 8, yWidth: 106.7, xHeight: 61, yTickPad: 7,
  pad: { left: 0, right: 4.7, top: 32.3, bottom: 0 },
});

function ChartCanvas({ make, left, top, width, height }: any) {
  const ref = useRef<HTMLCanvasElement | null>(null);
  useEffect(() => {
    if (!ref.current) return;
    const chart = new Chart(ref.current, make() as any);
    return () => chart.destroy();
  }, [make]);
  return (
    <canvas
      ref={ref}
      width={width}
      height={height}
      style={{ position: 'absolute', left, top, width, height }}
    />
  );
}

function Txt({ x, y, size, sx = 1, weight = 400, family = FONT, children }: any) {
  return (
    <div
      style={{
        position: 'absolute', left: x, top: y, fontSize: size, lineHeight: 1,
        fontFamily: family, fontWeight: weight, whiteSpace: 'nowrap', color: '#111',
        transform: `scaleX(${sx})`, transformOrigin: '0 0',
      }}
    >
      {children}
    </div>
  );
}

const Sup = () => <span style={{ fontSize: 15, position: 'relative', top: -9 }}>-1</span>;

function Legend({ box, items, ys, sampleX, sampleW, textX }: any) {
  return (
    <div
      style={{
        position: 'absolute', left: box.x, top: box.y, width: box.w, height: box.h,
        border: '1.5px solid #1a1a1a', boxSizing: 'border-box', background: '#fff', overflow: 'hidden',
      }}
    >
      {items.map((it: any, i: number) => (
        <React.Fragment key={i}>
          <div style={{ position: 'absolute', left: sampleX - box.x - 1.5, top: ys[i] - box.y - 1.5 - 3, width: sampleW, height: 6, background: it.color }} />
          <div
            style={{
              position: 'absolute', left: textX - box.x - 1.5, top: ys[i] - box.y - 1.5 - 9.5, fontSize: 19.5, lineHeight: 1,
              fontFamily: FONT, whiteSpace: 'nowrap', color: '#111', transform: 'scaleX(1.22)', transformOrigin: '0 0',
            }}
          >
            {it.text}
            {it.it ? <i>{it.it}</i> : null}
          </div>
        </React.Fragment>
      ))}
    </div>
  );
}

export default function App() {
  return (
    <div style={{ position: 'absolute', left: 0, top: 0, width: 1213, height: 937, overflow: 'hidden', background: '#fff' }}>
      <div style={{ position: 'absolute', left: 0, top: 0, width: 1213, height: 3, background: '#a8a8a8' }} />
      <ChartCanvas make={cfgA} left={0} top={0} width={620} height={480} />
      <ChartCanvas make={cfgB} left={605} top={0} width={608} height={480} />
      <ChartCanvas make={cfgC} left={0} top={470} width={620} height={467} />
      <ChartCanvas make={cfgD} left={605} top={470} width={608} height={467} />

      <Txt x={25} y={36.4} size={22} weight={700}>A</Txt>
      <Txt x={629} y={34.4} size={21} weight={700} family={LATO}>B</Txt>
      <Txt x={27} y={511.4} size={21} weight={700} family={LATO}>C</Txt>
      <Txt x={629} y={511.4} size={22} weight={700}>D</Txt>

      <Txt x={88} y={15.5} size={25} sx={1.2}>Moyennes; 5489 ± 514 UFC.mL<Sup /></Txt>
      <Txt x={897} y={13.8} size={25} sx={1.2}>Données lissées ;</Txt>
      <Txt x={896} y={50.5} size={25} sx={1.2}>43 ± 3 UFC.mL<Sup /></Txt>
      <Txt x={144} y={517.1} size={25} sx={1.2}>Moyennes ; 43 ± 3 UFC.mL<Sup /></Txt>
      <Txt x={972} y={517.1} size={25} sx={1.2}>Dérivée seconde</Txt>
      <Txt x={975} y={553.8} size={25} sx={1.2}>43 ± 3 UFC.mL<Sup /></Txt>

      <Legend box={{ x: 88, y: 91, w: 225, h: 129 }} items={A_LEGEND} ys={[110.3, 141.1, 171.9, 202.7]} sampleX={95} sampleW={47} textX={150} />
      <Legend box={{ x: 697, y: 25, w: 183.5, h: 154 }} items={B_LEGEND} ys={[40, 70.8, 101.6, 132.4, 163.2]} sampleX={701.7} sampleW={48.3} textX={758.3} />
      <Legend box={{ x: 983.3, y: 746.7, w: 223.4, h: 48.3 }} items={D_LEGEND} ys={[767.7]} sampleX={986} sampleW={47} textX={1043} />
    </div>
  );
}
